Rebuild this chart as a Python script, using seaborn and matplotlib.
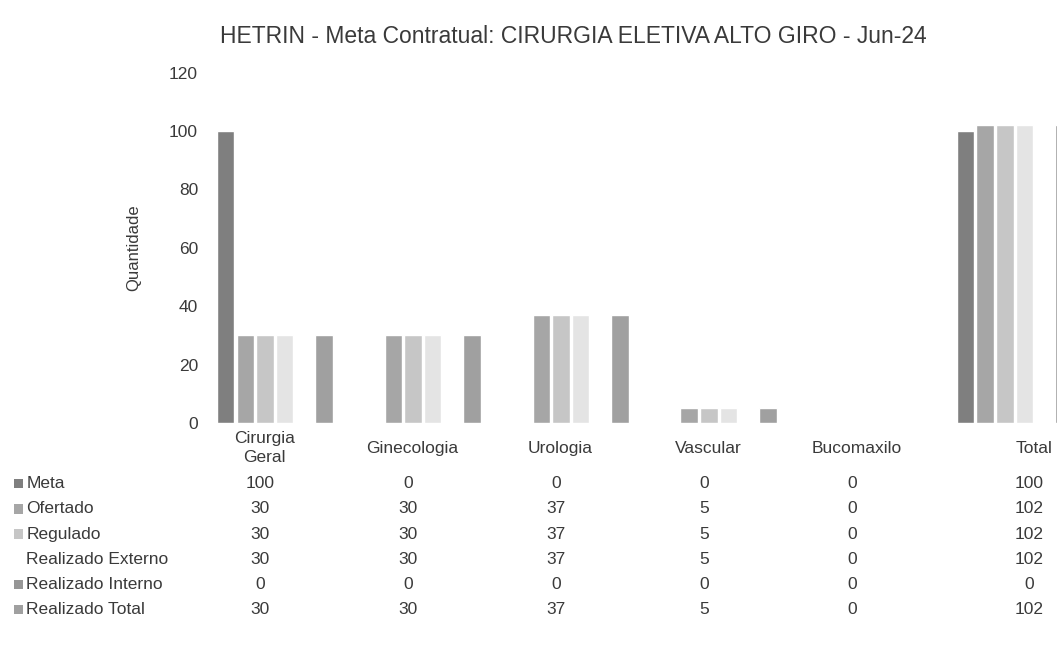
"""
Purpose:
    Rebuild the HETRIN contract-goal bar chart with data table underneath
"""

# %% ---- Requirements and constants ------------------------
import pandas as pd
import seaborn as sns
import matplotlib.pyplot as plt
from matplotlib.transforms import blended_transform_factory

categories = ['Cirurgia\nGeral', 'Ginecologia', 'Urologia',
              'Vascular', 'Bucomaxilo', 'Total']
series = ['Meta', 'Ofertado', 'Regulado', 'Realizado Externo',
          'Realizado Interno', 'Realizado Total']

meta = [100, 0, 0, 0, 0, 100]
ofertado = [30, 30, 37, 5, 0, 102]
regulado = [30, 30, 37, 5, 0, 102]
realizado_externo = [30, 30, 37, 5, 0, 102]
realizado_interno = [0, 0, 0, 0, 0, 0]
realizado_total = [30, 30, 37, 5, 0, 102]

colors = ['#7f7f7f', '#a6a6a6', '#c6c6c6', '#e4e4e4', '#969696', '#a0a0a0']

# %% ---- Function and class ------------------------


def build_frame():
    values = [meta, ofertado, regulado, realizado_externo,
              realizado_interno, realizado_total]
    rows = []
    for name, vals in zip(series, values):
        for cat, v in zip(categories, vals):
            rows.append(dict(categoria=cat, serie=name, valor=v))
    return pd.DataFrame(rows), values


def col_x(i):
    # table columns sit a bit left of the bar groups, the last one further right
    return i - 0.1 + (0.2 if i == len(categories) - 1 else 0)


# %% ---- Play ground ------------------------
if __name__ == '__main__':
    sns.set_theme(style='white')
    plt.rcParams['font.family'] = ['Liberation Sans', 'DejaVu Sans']
    text_color = '#3a3a3a'

    df, values = build_frame()

    fig = plt.figure(figsize=(10.57, 6.61), dpi=100)
    ax = fig.add_axes([0.19, 0.36, 0.84, 0.53])

    sns.barplot(df, x='categoria', y='valor', hue='serie',
                hue_order=series, order=categories,
                palette=colors, width=0.8, gap=0.12,
                legend=False, ax=ax)

    ax.set_ylim(0, 120)
    ax.set_xlim(-0.5, 5.5)
    ax.set_yticks(range(0, 121, 20))
    ax.tick_params(axis='y', labelsize=12.5, colors=text_color, length=0, pad=2)
    ax.set_xticks([])
    ax.set_xlabel('')
    ax.set_ylabel('Quantidade', fontsize=12, color=text_color, labelpad=20)
    for s in ax.spines.values():
        s.set_visible(False)

    fig.text(0.542, 0.945, 'HETRIN - Meta Contratual: CIRURGIA ELETIVA ALTO GIRO - Jun-24',
             ha='center', va='center', fontsize=16.5, color=text_color)

    # --------------------
    # Data table below the plot
    trans = blended_transform_factory(ax.transData, fig.transFigure)
    for i, cat in enumerate(categories):
        ax.text(col_x(i) + 0.03, 0.322, cat, transform=trans, ha='center',
                va='center', fontsize=12.5, color=text_color, linespacing=1.3)

    row_y = [0.268, 0.23, 0.192, 0.154, 0.116, 0.078]
    for name, vals, col, y in zip(series, values, colors, row_y):
        if name != 'Realizado Externo':
            fig.patches.append(plt.Rectangle(
                (0.013, y - 0.007), 0.009, 0.014, transform=fig.transFigure,
                facecolor=col, edgecolor='none'))
        fig.text(0.025, y, name, ha='left', va='center',
                 fontsize=12.5, color=text_color)
        for i, v in enumerate(vals):
            ax.text(col_x(i), y, str(v), transform=trans, ha='center',
                    va='center', fontsize=12.5, color=text_color)

    fig.savefig('out.png', dpi=100)
